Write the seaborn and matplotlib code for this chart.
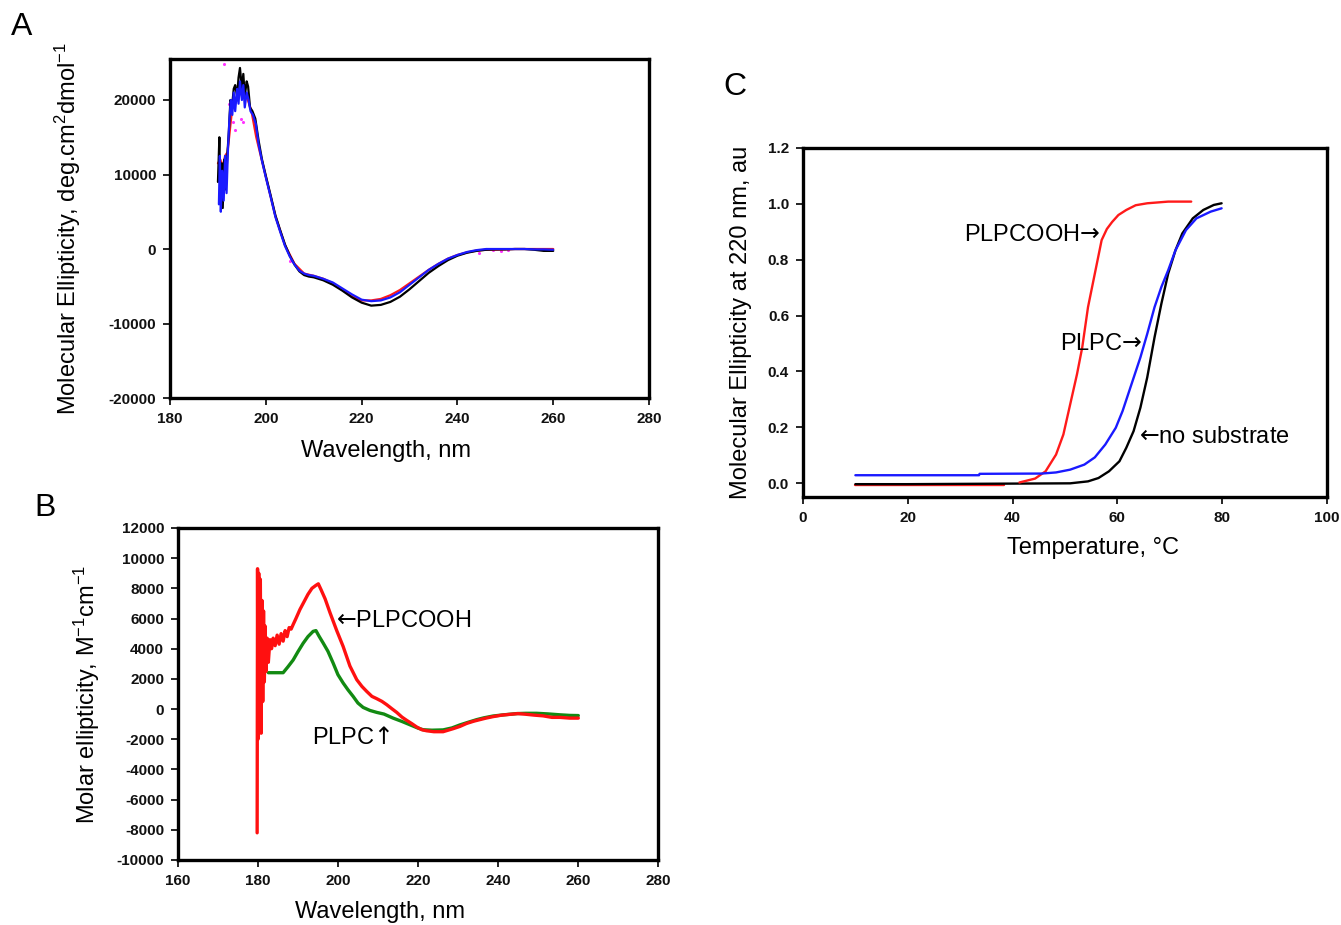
import matplotlib
matplotlib.use("Agg")
import matplotlib.pyplot as plt
import numpy as np
import pandas as pd
import seaborn as sns
from matplotlib.ticker import FormatStrFormatter

# panel A: CD spectra (three overlapping traces)
A_WL_BLACK = [190.0, 190.3, 190.5, 190.8, 191.0, 191.3, 191.6, 192.0, 192.3, 192.6, 193.0, 193.3,
              193.6, 194.0, 194.3, 194.6, 195.0, 195.3, 195.6, 196.0, 196.3, 196.7, 197.2, 197.8,
              198.5, 199.2, 200.0, 201.0, 202.0, 203.0, 204.0, 205.0, 206.0, 207.0, 208.0, 209.0,
              210.0, 212.0, 214.0, 216.0, 218.0, 220.0, 222.0, 224.0, 226.0, 228.0, 230.0, 232.0,
              234.0, 236.0, 238.0, 240.0, 242.0, 244.0, 246.0, 248.0, 250.0, 252.0, 254.0, 256.0,
              258.0, 260.0]
A_BLACK = [9000, 15000, 7000, 11500, 5500, 12000, 8000, 13000, 16000, 20000, 19500, 21500,
           22000, 20500, 23000, 24300, 21500, 23500, 20500, 22500, 21800, 19000, 18500, 17500,
           14500, 12000, 9800, 7200, 4500, 2500, 600, -900, -2100, -3000, -3500, -3700,
           -3800, -4200, -4800, -5600, -6500, -7200, -7600, -7500, -7100, -6400, -5400, -4300,
           -3200, -2300, -1500, -900, -500, -250, -100, -50, -50, 0, 0, -100,
           -250, -250]

A_WL_BLUE = [190.2, 190.4, 190.6, 190.9, 191.2, 191.5, 191.8, 192.1, 192.4, 192.7, 193.0, 193.3,
             193.6, 194.0, 194.3, 194.6, 195.0, 195.3, 195.6, 196.0, 196.4, 196.8, 197.3, 197.9,
             198.5, 199.2, 200.0, 201.0, 202.0, 203.0, 204.0, 205.0, 206.0, 207.0, 208.0, 209.0,
             210.0, 212.0, 214.0, 216.0, 218.0, 220.0, 222.0, 224.0, 226.0, 228.0, 230.0, 232.0,
             234.0, 236.0, 238.0, 240.0, 242.0, 244.0, 246.0, 248.0, 250.0, 252.0, 254.0, 256.0,
             258.0, 260.0]
A_BLUE = [6000, 12500, 5000, 10500, 6500, 12500, 7500, 13500, 17500, 20000, 18000, 21000,
          18500, 21500, 19500, 22500, 20000, 22000, 19000, 21000, 20000, 18500, 18000, 16800,
          14000, 11800, 9600, 7000, 4300, 2300, 400, -1000, -2100, -2900, -3300, -3500,
          -3600, -4000, -4500, -5300, -6100, -6800, -7000, -6900, -6500, -5800, -4800, -3800,
          -2800, -2000, -1300, -800, -400, -150, 0, 0, 0, 0, 0, -50,
          -50, -100]

A_WL_RED = [190.0, 190.5, 191.0, 191.5, 192.0, 193.0, 194.0, 195.0, 196.0, 197.0, 198.0, 200.0,
            202.0, 204.0, 206.0, 208.0, 210.0, 212.0, 214.0, 216.0, 218.0, 220.0, 222.0, 224.0,
            226.0, 228.0, 230.0, 232.0, 234.0, 236.0, 238.0, 240.0, 242.0, 244.0, 246.0, 248.0,
            250.0, 252.0, 254.0, 256.0, 258.0, 260.0]
A_RED = [11500, 12000, 11000, 12500, 13000, 19000, 20500, 21000, 20500, 18500, 15000, 9700,
         4400, 500, -2000, -3300, -3600, -4000, -4600, -5500, -6400, -6900, -6900, -6700,
         -6200, -5500, -4600, -3700, -2800, -2000, -1300, -800, -450, -200, -100, -100,
         -50, 0, 0, 0, 0, 0]

A_WL_MAGENTA = [191.2, 192.3, 193.2, 193.6, 194.8, 195.3, 205.0, 244.5, 247.5, 249.0, 250.5]
A_MAGENTA = [24800, 19500, 17000, 16000, 17500, 17000, -1600, -600, -150, -200, -100]

# panel B: molar ellipticity
B_WL_RED = [179.8, 179.9, 180.0, 180.2, 180.4, 180.6, 180.8, 181.0, 181.2, 181.4, 181.6, 181.8,
            182.0, 182.3, 182.6, 183.0, 183.4, 183.8, 184.3, 184.8, 185.3, 185.8, 186.3, 186.8,
            187.3, 187.8, 188.3, 188.8, 189.5, 190.5, 191.5, 192.5, 193.5, 194.5, 195.1, 195.8,
            196.8, 198.0, 199.7, 201.3, 203.0, 204.7, 206.0, 207.2, 208.5, 209.7, 211.0, 212.2,
            213.5, 214.7, 216.0, 217.2, 218.5, 219.7, 221.0, 222.2, 224.0, 226.3, 228.8, 230.5,
            232.2, 234.0, 235.5, 237.0, 238.8, 241.0, 243.0, 245.0, 247.2, 249.0, 251.3, 253.5,
            255.5, 258.0, 260.1]
B_RED = [-8200, 9300, -2000, 9000, 1500, 8600, -1600, 7200, 500, 6500, 1800, 5500,
         2500, 4700, 3100, 4600, 4000, 4700, 4200, 4900, 4300, 5000, 4500, 5200,
         4800, 5400, 5300, 5600, 6000, 6600, 7100, 7600, 8000, 8200, 8300, 7900,
         7300, 6400, 5200, 4150, 2850, 1950, 1500, 1170, 840, 690, 510, 290,
         20, -220, -530, -750, -970, -1190, -1370, -1440, -1500, -1500, -1300, -1150,
         -950, -800, -700, -600, -500, -400, -350, -300, -350, -400, -450, -550,
         -550, -600, -600]

B_WL_GREEN = [182.6, 186.3, 187.5, 188.8, 190.0, 191.3, 192.5, 193.8, 194.5, 195.3, 196.3, 197.5,
              198.8, 200.0, 201.3, 202.5, 203.8, 205.0, 206.3, 208.0, 209.7, 211.5, 213.8, 216.0,
              218.0, 220.0, 221.3, 223.5, 226.3, 228.5, 230.5, 232.5, 234.7, 236.5, 238.8, 241.5,
              244.7, 247.0, 249.7, 252.5, 255.5, 258.0, 260.1]
B_GREEN = [2410, 2410, 2800, 3250, 3800, 4360, 4800, 5150, 5200, 4820, 4380, 3830,
           3050, 2280, 1730, 1280, 840, 400, 110, -90, -220, -330, -600, -820,
           -1040, -1260, -1370, -1400, -1380, -1250, -1050, -880, -700, -580, -460, -380,
           -300, -280, -280, -320, -380, -420, -430]

# panel C: thermal unfolding at 220 nm
C_T_BLACK = [10, 20, 30, 40, 51, 54.4, 56.4, 58.4, 60.4, 61.7, 63.1, 64.4, 65.7, 67.1, 68.4,
             69.7, 71.1, 72.4, 74.4, 76.4, 78.4, 79.9]
C_BLACK = [-0.004, -0.004, -0.003, -0.002, -0.001, 0.006, 0.018, 0.042, 0.078, 0.126, 0.186,
           0.270, 0.378, 0.522, 0.642, 0.750, 0.834, 0.894, 0.948, 0.978, 0.996, 1.002]

C_T_BLUE = [10, 33.6, 33.7, 45.6, 48.3, 51.0, 53.7, 55.7, 57.7, 59.7, 61.0, 62.7, 64.4, 65.7,
            67.1, 68.4, 69.7, 71.1, 73.1, 75.1, 77.8, 79.9]
C_BLUE = [0.028, 0.028, 0.033, 0.034, 0.038, 0.048, 0.066, 0.092, 0.138, 0.198, 0.258, 0.354,
          0.450, 0.534, 0.630, 0.702, 0.762, 0.834, 0.906, 0.948, 0.972, 0.984]

C_T_RED_LOW = [10, 38.4]
C_RED_LOW = [-0.006, -0.006]
C_T_RED_HIGH = [41.3, 44.3, 46.3, 48.3, 49.7, 51.0, 52.3, 53.3, 54.4, 55.7, 57.0, 58.0, 59.0,
                60.2, 61.7, 63.5, 65.7, 69.7, 74.1]
C_RED_HIGH = [0.002, 0.016, 0.042, 0.102, 0.174, 0.282, 0.390, 0.486, 0.630, 0.750, 0.870,
              0.910, 0.935, 0.960, 0.978, 0.995, 1.002, 1.008, 1.008]

FONT = ["Liberation Sans", "DejaVu Sans"]

sns.set_theme(style="ticks")
plt.rcParams["font.family"] = FONT
plt.rcParams["axes.unicode_minus"] = False
plt.rcParams["text.color"] = "black"
plt.rcParams["axes.labelcolor"] = "black"

fig = plt.figure(figsize=(13.41, 9.25), dpi=100)
ax_a = fig.add_axes([0.1268, 0.5697, 0.3572, 0.3665])
ax_b = fig.add_axes([0.1327, 0.0703, 0.3579, 0.3589])
ax_c = fig.add_axes([0.5988, 0.4627, 0.3907, 0.3773])


def line(ax, x, y, color, lw):
    df = pd.DataFrame({"x": x, "y": y})
    sns.lineplot(data=df, x="x", y="y", ax=ax, color=color, linewidth=lw,
                 sort=False, estimator=None)


def style_axes(ax, xlabel, ylabel, xlab_pos, ylab_pos):
    for side in ["top", "right", "bottom", "left"]:
        ax.spines[side].set_linewidth(2.4)
        ax.spines[side].set_color("black")
    ax.tick_params(direction="out", length=5, width=1.2, colors="black",
                   labelsize=11, pad=5, top=False, right=False)
    for lab in ax.get_xticklabels() + ax.get_yticklabels():
        lab.set_fontweight("bold")
        lab.set_color("#111111")
    ax.set_xlabel(xlabel, fontsize=17, color="black")
    ax.set_ylabel(ylabel, fontsize=17, color="black")
    ax.xaxis.set_label_coords(*xlab_pos)
    ax.yaxis.set_label_coords(*ylab_pos)
    ax.grid(False)


# unicode arrows inside mathtext: DejaVu glyphs, no relation spacing
LEFT = "$\u2190$"
RIGHT = "$\u2192$"
UP = "$\u2191$"

# A
line(ax_a, A_WL_RED, A_RED, "#ff1a1a", 1.6)
sns.scatterplot(x=A_WL_MAGENTA, y=A_MAGENTA, ax=ax_a, color="#ff33ff", s=5, linewidth=0)
line(ax_a, A_WL_BLACK, A_BLACK, "black", 1.6)
line(ax_a, A_WL_BLUE, A_BLUE, "#1a1aff", 1.6)
ax_a.set_xlim(180, 280)
ax_a.set_ylim(-20000, 25500)
ax_a.set_xticks([180, 200, 220, 240, 260, 280])
ax_a.set_yticks([-20000, -10000, 0, 10000, 20000])
style_axes(ax_a, "Wavelength, nm",
           r"Molecular Ellipticity, deg.cm$\mathregular{^2}$dmol$\mathregular{^{-1}}$",
           (0.451, -0.125), (-0.182, 0.5))

# B
line(ax_b, B_WL_GREEN, B_GREEN, "#128a12", 2.4)
line(ax_b, B_WL_RED, B_RED, "#ff1010", 2.4)
ax_b.set_xlim(160, 280)
ax_b.set_ylim(-10000, 12000)
ax_b.set_xticks([160, 180, 200, 220, 240, 260, 280])
ax_b.set_yticks(list(range(-10000, 12001, 2000)))
style_axes(ax_b, "Wavelength, nm",
           r"Molar ellipticity, M$\mathregular{^{-1}}$cm$\mathregular{^{-1}}$",
           (0.42, -0.125), (-0.158, 0.5))
ax_b.text(199.4, 5820, LEFT + "PLPCOOH", fontsize=17, ha="left", va="center", color="black")
ax_b.text(193.4, -1950, "PLPC" + UP, fontsize=17, ha="left", va="center", color="black")

# C
line(ax_c, C_T_RED_LOW, C_RED_LOW, "#ff1a1a", 1.7)
line(ax_c, C_T_BLACK, C_BLACK, "black", 1.7)
line(ax_c, C_T_RED_HIGH, C_RED_HIGH, "#ff1a1a", 1.7)
line(ax_c, C_T_BLUE, C_BLUE, "#1a1aff", 1.7)
ax_c.set_xlim(0, 100)
ax_c.set_ylim(-0.05, 1.2)
ax_c.set_xticks([0, 20, 40, 60, 80, 100])
ax_c.set_yticks([0.0, 0.2, 0.4, 0.6, 0.8, 1.0, 1.2])
ax_c.yaxis.set_major_formatter(FormatStrFormatter("%.1f"))
style_axes(ax_c, "Temperature, \u00b0C", "Molecular Ellipticity at 220 nm, au",
           (0.553, -0.115), (-0.098, 0.5))
ax_c.text(30.7, 0.888, "PLPCOOH" + RIGHT, fontsize=17, ha="left", va="center", color="black")
ax_c.text(49.1, 0.498, "PLPC" + RIGHT, fontsize=17, ha="left", va="center", color="black")
ax_c.text(64.1, 0.164, LEFT + "no substrate", fontsize=17, ha="left", va="center", color="black")

# panel letters
fig.text(0.0164, 0.971, "A", fontsize=23, ha="center", va="center", color="black")
fig.text(0.0336, 0.451, "B", fontsize=23, ha="center", va="center", color="black")
fig.text(0.548, 0.906, "C", fontsize=23, ha="center", va="center", color="black")

fig.savefig("out.png", dpi=100)
